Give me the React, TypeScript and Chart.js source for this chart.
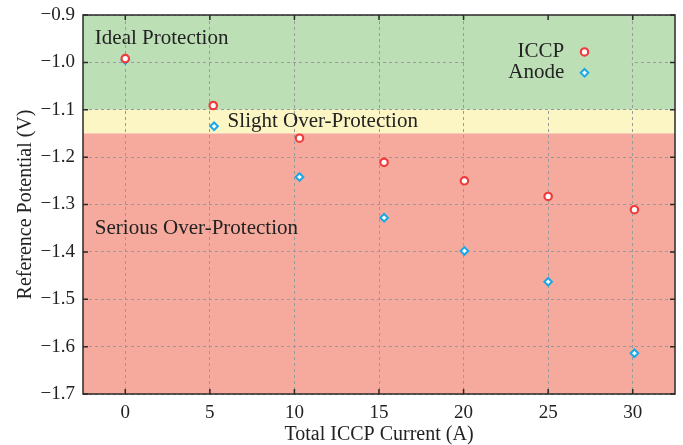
import React, { useEffect, useRef } from "react";
import { Chart, registerables } from "chart.js";

Chart.register(...registerables);

const xTicks = [0, 5, 10, 15, 20, 25, 30];
const yTicks = [-0.9, -1.0, -1.1, -1.2, -1.3, -1.4, -1.5, -1.6, -1.7];

const iccpX = [0, 5.2, 10.3, 15.3, 20.05, 25.0, 30.1];
const iccpY = [-0.992, -1.091, -1.160, -1.211, -1.250, -1.283, -1.311];

const anodeX = [0, 5.25, 10.3, 15.3, 20.05, 25.0, 30.1];
const anodeY = [-0.995, -1.135, -1.242, -1.328, -1.398, -1.463, -1.614];

const bandLimits = [-0.9, -1.1, -1.15, -1.7];
const bandColors = ["#bddfb6", "#fcf6c4", "#f6aa9d"];
const bandLabels = ["Ideal Protection", "Slight Over-Protection", "Serious Over-Protection"];
const bandLabelPos = [[-1.8, -0.949], [6.05, -1.124], [-1.8, -1.35]];

const seriesNames = ["ICCP", "Anode"];
const RED = "#ef3b3b";
const BLUE = "#1aa8e6";
const FONT = "'Liberation Serif', 'DejaVu Serif', serif";

const fmt = (v: number) => {
  const s = (Math.round(v * 10) / 10).toFixed(1);
  return s.replace("-", "\u2212");
};

const bandsPlugin = {
  id: "bands",
  beforeDraw(chart: any) {
    const { ctx, chartArea, scales } = chart;
    const y = scales.y;
    ctx.save();
    for (let i = 0; i < bandColors.length; i++) {
      const y1 = y.getPixelForValue(bandLimits[i]);
      const y2 = y.getPixelForValue(bandLimits[i + 1]);
      ctx.fillStyle = bandColors[i];
      ctx.fillRect(chartArea.left, y1, chartArea.right - chartArea.left, y2 - y1);
    }
    ctx.restore();
  },
};

const annotPlugin = {
  id: "annot",
  beforeDatasetsDraw(chart: any) {
    const { ctx, scales } = chart;
    const x = scales.x;
    const y = scales.y;
    ctx.save();
    const lx1 = x.getPixelForValue(20) + 1;
    const lx2 = x.getPixelForValue(30) - 1;
    const ly1 = y.getPixelForValue(-0.9);
    const ly2 = y.getPixelForValue(-1.1) - 1;
    ctx.fillStyle = bandColors[0];
    ctx.fillRect(lx1, ly1, lx2 - lx1, ly2 - ly1);

    ctx.fillStyle = "#222";
    ctx.font = "21px " + FONT;
    ctx.textBaseline = "middle";
    ctx.textAlign = "left";
    for (let i = 0; i < bandLabels.length; i++) {
      ctx.fillText(
        bandLabels[i],
        x.getPixelForValue(bandLabelPos[i][0]),
        y.getPixelForValue(bandLabelPos[i][1])
      );
    }
    ctx.restore();
  },
  afterDatasetsDraw(chart: any) {
    const { ctx, scales } = chart;
    const x = scales.x;
    const y = scales.y;
    ctx.save();
    ctx.font = "21px " + FONT;
    ctx.textBaseline = "middle";
    ctx.textAlign = "right";
    ctx.fillStyle = "#222";
    const tx = x.getPixelForValue(25.95);
    const mx = x.getPixelForValue(27.15);
    const ys = [y.getPixelForValue(-0.978), y.getPixelForValue(-1.022)];
    ctx.fillText(seriesNames[0], tx, ys[0]);
    ctx.fillText(seriesNames[1], tx, ys[1]);
    ctx.lineWidth = 2.2;
    ctx.beginPath();
    ctx.arc(mx, ys[0], 3.7, 0, Math.PI * 2);
    ctx.fillStyle = "#fff";
    ctx.fill();
    ctx.strokeStyle = RED;
    ctx.stroke();
    ctx.lineWidth = 2;
    const r = 3.8;
    ctx.beginPath();
    ctx.moveTo(mx, ys[1] - r);
    ctx.lineTo(mx + r, ys[1]);
    ctx.lineTo(mx, ys[1] + r);
    ctx.lineTo(mx - r, ys[1]);
    ctx.closePath();
    ctx.fillStyle = "#fff";
    ctx.fill();
    ctx.strokeStyle = BLUE;
    ctx.stroke();
    ctx.restore();
  },
  afterDraw(chart: any) {
    const { ctx, chartArea, scales } = chart;
    const x = scales.x;
    const y = scales.y;
    const { left, right, top, bottom } = chartArea;
    ctx.save();
    ctx.strokeStyle = "#2a2a2a";
    ctx.lineWidth = 1.5;
    ctx.strokeRect(left, top, right - left, bottom - top);
    const L = 5;
    ctx.beginPath();
    for (const v of xTicks) {
      const px = x.getPixelForValue(v);
      ctx.moveTo(px, bottom);
      ctx.lineTo(px, bottom - L);
      ctx.moveTo(px, top);
      ctx.lineTo(px, top + L);
    }
    for (const v of yTicks) {
      const py = y.getPixelForValue(v);
      ctx.moveTo(left, py);
      ctx.lineTo(left + L, py);
      ctx.moveTo(right, py);
      ctx.lineTo(right - L, py);
    }
    ctx.stroke();
    ctx.restore();
  },
};

export default function App() {
  const ref = useRef<HTMLCanvasElement | null>(null);
  useEffect(() => {
    document.body.style.margin = "0";
    const canvas = ref.current;
    if (!canvas) return;
    const chart = new Chart(canvas, {
      type: "scatter",
      data: {
        datasets: [
          {
            label: seriesNames[0],
            data: iccpX.map((v, i) => ({ x: v, y: iccpY[i] })),
            pointStyle: "circle",
            pointRadius: 3.7,
            pointHoverRadius: 3.7,
            borderWidth: 2.2,
            borderColor: RED,
            backgroundColor: "#fff",
          },
          {
            label: seriesNames[1],
            data: anodeX.map((v, i) => ({ x: v, y: anodeY[i] })),
            pointStyle: "rectRot",
            pointRadius: 3.8,
            pointHoverRadius: 3.8,
            borderWidth: 2,
            borderColor: BLUE,
            backgroundColor: "#fff",
          },
        ],
      },
      options: {
        animation: false,
        responsive: false,
        maintainAspectRatio: false,
        layout: { padding: { top: 15, right: 8, left: 0, bottom: 0 } },
        plugins: { legend: { display: false }, tooltip: { enabled: false } },
        scales: {
          x: {
            type: "linear",
            min: -2.5,
            max: 32.5,
            afterBuildTicks: (s: any) => {
              s.ticks = xTicks.map((v) => ({ value: v }));
            },
            afterFit: (s: any) => {
              s.height = 51;
              s.paddingLeft = 0;
              s.paddingRight = 0;
            },
            grid: { color: "#9a9a9a", lineWidth: 1, drawTicks: false },
            border: { display: false, dash: [3, 3] },
            ticks: {
              color: "#222",
              font: { family: FONT, size: 19 },
              padding: 8,
              maxRotation: 0,
              callback: (v: any) => String(v),
            },
            title: {
              display: true,
              text: "Total ICCP Current (A)",
              color: "#222",
              font: { family: FONT, size: 20 },
              padding: { top: 0, bottom: -2 },
            },
          },
          y: {
            type: "linear",
            min: -1.7,
            max: -0.9,
            afterBuildTicks: (s: any) => {
              s.ticks = yTicks.map((v) => ({ value: v }));
            },
            afterFit: (s: any) => {
              s.width = 83;
              s.paddingTop = 0;
              s.paddingBottom = 0;
            },
            grid: { color: "#9a9a9a", lineWidth: 1, drawTicks: false },
            border: { display: false, dash: [3, 3] },
            ticks: {
              color: "#222",
              font: { family: FONT, size: 19 },
              padding: 8,
              callback: (v: any) => fmt(Number(v)),
            },
            title: {
              display: true,
              text: "Reference Potential (V)",
              color: "#222",
              font: { family: FONT, size: 20 },
              padding: { top: 14, bottom: 0 },
            },
          },
        },
      },
      plugins: [bandsPlugin, annotPlugin],
    } as any);
    return () => chart.destroy();
  }, []);
  return (
    <div style={{ width: 683, height: 445 }}>
      <canvas ref={ref} width={683} height={445} style={{ display: "block" }} />
    </div>
  );
}
